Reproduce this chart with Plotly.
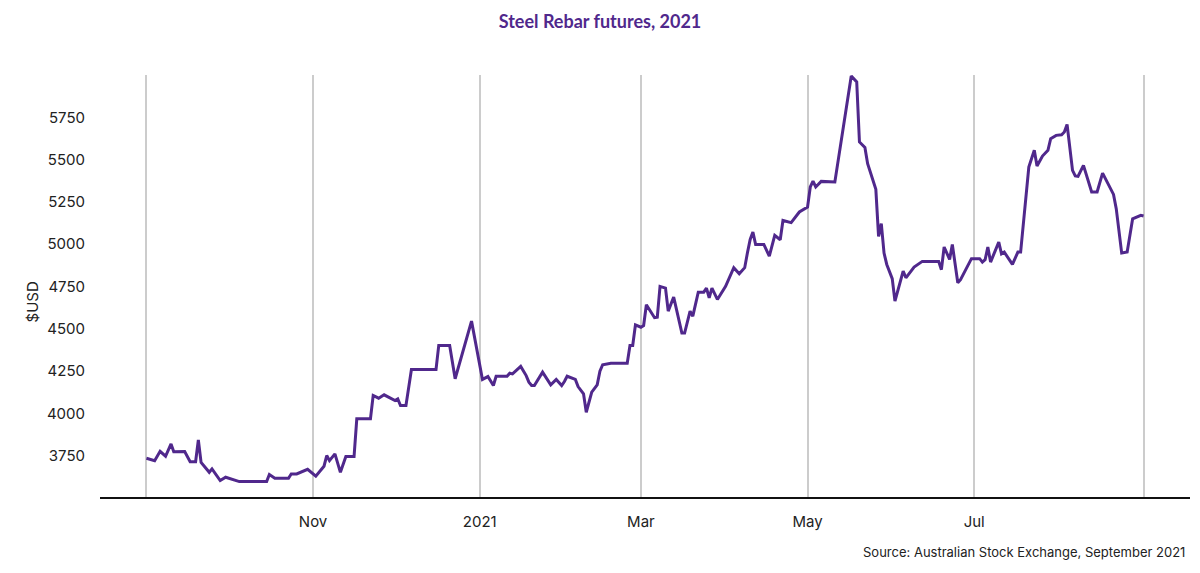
import plotly.graph_objects as go

dates = [
    "2020-09-01", "2020-09-04", "2020-09-06", "2020-09-08", "2020-09-10", "2020-09-11",
    "2020-09-15", "2020-09-17", "2020-09-19", "2020-09-20", "2020-09-21", "2020-09-24",
    "2020-09-25", "2020-09-28", "2020-09-30", "2020-10-05", "2020-10-15", "2020-10-16",
    "2020-10-18", "2020-10-23", "2020-10-24", "2020-10-26", "2020-10-30", "2020-11-02",
    "2020-11-05", "2020-11-06", "2020-11-07", "2020-11-09", "2020-11-11", "2020-11-13",
    "2020-11-16", "2020-11-17", "2020-11-22", "2020-11-23", "2020-11-25", "2020-11-27",
    "2020-12-01", "2020-12-02", "2020-12-03", "2020-12-05", "2020-12-07", "2020-12-16",
    "2020-12-17", "2020-12-21", "2020-12-23", "2020-12-29",
    "2021-01-02", "2021-01-04", "2021-01-06", "2021-01-07", "2021-01-11", "2021-01-12",
    "2021-01-13", "2021-01-16", "2021-01-18", "2021-01-19", "2021-01-20", "2021-01-21",
    "2021-01-24", "2021-01-27", "2021-01-29", "2021-01-31", "2021-02-01", "2021-02-02",
    "2021-02-05", "2021-02-06", "2021-02-08", "2021-02-09", "2021-02-11", "2021-02-13",
    "2021-02-14", "2021-02-15", "2021-02-18", "2021-02-22", "2021-02-24", "2021-02-25",
    "2021-02-26", "2021-02-27", "2021-03-01", "2021-03-02", "2021-03-03", "2021-03-06",
    "2021-03-07", "2021-03-08", "2021-03-10", "2021-03-11", "2021-03-13", "2021-03-16",
    "2021-03-17", "2021-03-19", "2021-03-20", "2021-03-22", "2021-03-24", "2021-03-25",
    "2021-03-26", "2021-03-27", "2021-03-29", "2021-04-01", "2021-04-03", "2021-04-04",
    "2021-04-06", "2021-04-08", "2021-04-09", "2021-04-10", "2021-04-11", "2021-04-12",
    "2021-04-15", "2021-04-17", "2021-04-19", "2021-04-21", "2021-04-22", "2021-04-25",
    "2021-04-28", "2021-05-01", "2021-05-02", "2021-05-03", "2021-05-04", "2021-05-06",
    "2021-05-11", "2021-05-17", "2021-05-19", "2021-05-20", "2021-05-22", "2021-05-23",
    "2021-05-26", "2021-05-27", "2021-05-28", "2021-05-29", "2021-05-30", "2021-06-01",
    "2021-06-02", "2021-06-05", "2021-06-06", "2021-06-09", "2021-06-12", "2021-06-18",
    "2021-06-19", "2021-06-20", "2021-06-22", "2021-06-23", "2021-06-25", "2021-06-26",
    "2021-06-30", "2021-07-03", "2021-07-04", "2021-07-05", "2021-07-06", "2021-07-07",
    "2021-07-10", "2021-07-11", "2021-07-12", "2021-07-15", "2021-07-17", "2021-07-18",
    "2021-07-21", "2021-07-23", "2021-07-24", "2021-07-26", "2021-07-28", "2021-07-29",
    "2021-07-31", "2021-08-02", "2021-08-03", "2021-08-04", "2021-08-06", "2021-08-07",
    "2021-08-08", "2021-08-10", "2021-08-13", "2021-08-15", "2021-08-17", "2021-08-21",
    "2021-08-22", "2021-08-23", "2021-08-24", "2021-08-26", "2021-08-27", "2021-08-28",
    "2021-08-31", "2021-09-01",
]

prices = [
    3734, 3720, 3775, 3746, 3819, 3772,
    3774, 3714, 3714, 3843, 3710, 3651,
    3671, 3602, 3622, 3596, 3596, 3638,
    3616, 3616, 3641, 3641, 3669, 3628,
    3687, 3750, 3720, 3760, 3651, 3744,
    3744, 3967, 3967, 4105, 4089, 4109,
    4075, 4085, 4046, 4046, 4259, 4259,
    4401, 4401, 4204, 4545,
    4200, 4217, 4164, 4219, 4219, 4237,
    4233, 4277, 4223, 4184, 4164, 4164,
    4243, 4168, 4200, 4164, 4188, 4219,
    4200, 4158, 4115, 4006, 4125, 4168,
    4249, 4287, 4296, 4298, 4296, 4401,
    4401, 4523, 4509, 4519, 4642, 4565,
    4568, 4750, 4740, 4604, 4687, 4474,
    4474, 4604, 4574, 4716, 4716, 4740,
    4683, 4740, 4673, 4750, 4825, 4861,
    4825, 4861, 4949, 5028, 5071, 4998,
    4998, 4929, 5052, 5026, 5140, 5127,
    5190, 5219, 5338, 5373, 5338, 5371,
    5367, 5994, 5959, 5604, 5571, 5476,
    5324, 5046, 5121, 4947, 4880, 4796,
    4663, 4841, 4801, 4864, 4898, 4898,
    4849, 4983, 4910, 4998, 4772, 4790,
    4914, 4914, 4894, 4908, 4983, 4894,
    5012, 4943, 4953, 4880, 4953, 4953,
    5456, 5555, 5462, 5521, 5555, 5624,
    5643, 5647, 5663, 5708, 5436, 5403,
    5401, 5466, 5308, 5308, 5420, 5294,
    5210, 5071, 4947, 4953, 5052, 5150,
    5170, 5166,
]

x_tick_vals = ["2020-09-01", "2020-11-01", "2021-01-01", "2021-03-01", "2021-05-01", "2021-07-01", "2021-09-01"]
x_tick_text = ["", "Nov", "2021", "Mar", "May", "Jul", ""]
y_tick_vals = [3750, 4000, 4250, 4500, 4750, 5000, 5250, 5500, 5750]

title_text = "Steel Rebar futures, 2021"
y_title = "$USD"
source_text = "Source: Australian Stock Exchange, September 2021"

purple = "#50288C"

fig = go.Figure()
fig.add_trace(go.Scatter(
    x=dates, y=prices, mode="lines",
    line=dict(color=purple, width=3),
    showlegend=False, hoverinfo="x+y",
))

fig.update_layout(
    width=1200, height=573,
    margin=dict(l=100, r=10, t=75, b=76),
    paper_bgcolor="white", plot_bgcolor="white",
    font=dict(family="Inter, Lato, sans-serif", color="#222222"),
    title=dict(text="<b>" + title_text + "</b>", x=0.5, xanchor="center", y=0.962, yanchor="middle",
               font=dict(size=18, color=purple, family="Lato, Inter, sans-serif")),
    xaxis=dict(
        type="date",
        range=["2020-08-15", "2021-09-18"],
        tickmode="array", tickvals=x_tick_vals, ticktext=x_tick_text,
        showgrid=True, gridcolor="#cccccc", gridwidth=2,
        showline=True, linecolor="#111111", linewidth=2,
        ticks="", tickfont=dict(size=15, color="#222222"),
        ticklabelstandoff=10,
        zeroline=False, fixedrange=True,
    ),
    yaxis=dict(
        range=[3505, 6000],
        tickmode="array", tickvals=y_tick_vals,
        showgrid=False, showline=False, zeroline=False,
        ticks="", ticklabelstandoff=14,
        tickfont=dict(size=15, color="#222222"),
        fixedrange=True,
    ),
    annotations=[
        dict(text=y_title, xref="paper", yref="paper", x=-0.062, y=0.462, xanchor="center",
             yanchor="middle", textangle=-90, showarrow=False,
             font=dict(size=15, color="#222222")),
        dict(text=source_text, xref="paper", yref="paper", x=0.997, y=-0.131, xanchor="right",
             yanchor="middle", showarrow=False, font=dict(size=13, color="#222222")),
    ],
)

fig.write_html("out.html", config={"displayModeBar": False},
               post_script="document.body.style.margin='0';document.body.style.padding='0';")
